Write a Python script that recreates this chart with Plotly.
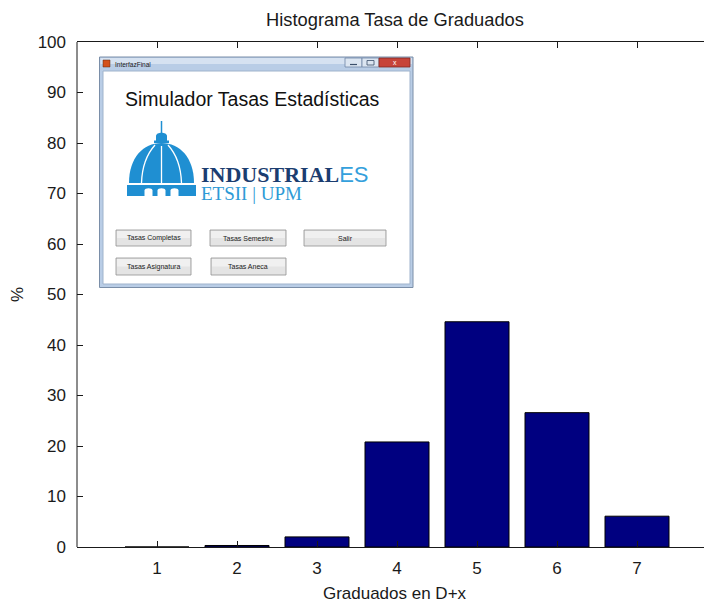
import plotly.graph_objects as go

# ---------------- data ----------------
categories = [1, 2, 3, 4, 5, 6, 7]
percent = [0.0, 0.3, 2.0, 20.8, 44.6, 26.6, 6.1]
y_ticks = [0, 10, 20, 30, 40, 50, 60, 70, 80, 90, 100]
x_ticks = [1, 2, 3, 4, 5, 6, 7]

title_text = "Histograma Tasa de Graduados"
x_title = "Graduados en D+x"
y_title = "%"

gui_title = "InterfazFinal"
gui_heading = "Simulador Tasas Estadísticas"
gui_buttons = ["Tasas Completas", "Tasas Semestre", "Salir", "Tasas Asignatura", "Tasas Aneca"]

# ---------------- geometry helpers (page pixel -> paper) ----------------
OFF = 8                      # page body margin
FW, FH = 704, 595
PL, PT, PB, PR = 77, 42, 547, 712   # plot area in page pixels
L, T = PL - OFF, PT - OFF
B = (OFF + FH) - PB
R_ = (OFF + FW) - PR
W = PR - PL
H = PB - PT


def px(x):
    return (x - PL) / W


def py(y):
    return (PB - y) / H


def path(cmds):
    out = []
    for c in cmds:
        if isinstance(c, str):
            out.append(c)
        else:
            out.append(f"{px(c[0]):.5f},{py(c[1]):.5f}")
    return " ".join(out)


FONT = "Liberation Sans, Arial, Helvetica, sans-serif"
SERIF = "Liberation Serif, Times New Roman, serif"

fig = go.Figure()
fig.add_trace(go.Bar(
    x=categories, y=percent, width=0.8,
    marker=dict(color="#000080", line=dict(color="#000000", width=1)),
    hoverinfo="x+y",
))

shapes = []
annotations = []


def rect(x0, y0, x1, y1, fill, line=None, lw=1):
    shapes.append(dict(type="rect", xref="paper", yref="paper",
                       x0=px(x0), x1=px(x1), y0=py(y1), y1=py(y0),
                       fillcolor=fill,
                       line=dict(color=line if line else fill, width=lw if line else 0)))


def seg(x0, y0, x1, y1, color, lw=1):
    shapes.append(dict(type="line", xref="paper", yref="paper",
                       x0=px(x0), x1=px(x1), y0=py(y0), y1=py(y1),
                       line=dict(color=color, width=lw)))


def pth(cmds, fill=None, line=None, lw=1):
    d = dict(type="path", xref="paper", yref="paper", path=path(cmds),
             line=dict(color=line if line else "rgba(0,0,0,0)", width=lw if line else 0))
    if fill:
        d["fillcolor"] = fill
    shapes.append(d)


def text(x, y, s, size, color="#000000", family=FONT, xanchor="center", yanchor="middle"):
    annotations.append(dict(xref="paper", yref="paper", x=px(x), y=py(y), text=s,
                            showarrow=False, xanchor=xanchor, yanchor=yanchor,
                            font=dict(size=size, color=color, family=family)))


# left spine (right spine lies just outside the picture)
seg(PL, PT, PL, PB, "#1a1a1a", 1)

# ---------------- GUI window overlay ----------------
rect(99.5, 57, 413, 287.5, "#b9cde6", "#7a8ea8", 1)
rect(100.5, 58, 412, 64, "#d6e2f1")
rect(103, 71, 410, 284, "#ffffff", "#9fb3cc", 1)
# icon
rect(103, 60, 110, 67, "#d4521c", "#5a2a10", 0.5)
text(113, 64, gui_title, 6.5, "#1a1a1a", xanchor="left")
# window controls
rect(345, 58, 362, 67, "#dbe5f1", "#6f86a6", 0.8)
rect(362, 58, 379, 67, "#dbe5f1", "#6f86a6", 0.8)
rect(379, 58, 410, 67, "#c7443a", "#7d2a24", 0.8)
seg(350, 64.5, 357, 64.5, "#3b4f6b", 1.2)
rect(367, 60.5, 374, 65, "rgba(0,0,0,0)", "#3b4f6b", 0.8)
text(394.5, 62.5, "x", 7, "#ffffff")

# heading
text(252, 98.5, gui_heading, 19.5, "#111111")

# dome logo
BLUE = "#1f8fd2"
seg(161.5, 121, 161.5, 133, BLUE, 1.5)
pth(["M", (156, 141), "L", (156, 136), "C", (156, 131.5), (167, 131.5), (167, 136),
     "L", (167, 141), "Z"], fill=BLUE)
rect(154, 140.5, 169, 143, BLUE)
pth(["M", (129, 183), "C", (129, 158), (143, 143), (161.5, 143),
     "C", (180, 143), (194, 158), (194, 183), "Z"], fill=BLUE)
# white ribs
seg(161.5, 146, 161.5, 183, "#ffffff", 1.3)
pth(["M", (155, 145), "C", (146, 155), (142, 168), (141.5, 183)], line="#ffffff", lw=1.3)
pth(["M", (168, 145), "C", (177, 155), (181, 168), (181.5, 183)], line="#ffffff", lw=1.3)
# base drum
rect(127, 185, 196, 196, BLUE)
for cx in (148.5, 161.5, 174.5):
    pth(["M", (cx - 4, 196), "L", (cx - 4, 190.5), "C", (cx - 4, 187.5), (cx + 4, 187.5),
         (cx + 4, 190.5), "L", (cx + 4, 196), "Z"], fill="#ffffff")

# logo text
text(199, 174.5,
     "<b>INDUSTRIAL</b><span style='font-family:Liberation Sans, Arial, sans-serif;"
     "color:#34a0dc'>ES</span>", 22, "#1b3d70", family=SERIF, xanchor="left")
text(199, 193, "ETSII | UPM", 19, "#2e9ad6", family=SERIF, xanchor="left")

# buttons
btn_boxes = [(116, 230, 191, 246), (210, 230, 286, 246), (304, 230, 386, 246),
             (116, 258, 191, 275), (211, 258, 286, 275)]
for (x0, y0, x1, y1), lab in zip(btn_boxes, gui_buttons):
    rect(x0, y0, x1, y1, "#e4e4e4", "#8f8f8f", 0.8)
    rect(x0 + 1, y0 + 1, x1 - 1, (y0 + y1) / 2, "#f0f0f0")
    text((x0 + x1) / 2, (y0 + y1) / 2, lab, 7, "#222222")

fig.update_layout(
    width=FW, height=FH,
    margin=dict(l=L, r=R_, t=T, b=B, pad=0),
    paper_bgcolor="#ffffff", plot_bgcolor="#ffffff",
    showlegend=False,
    font=dict(family=FONT, size=17, color="#1a1a1a"),
    title=dict(text=title_text, x=(395 - OFF) / FW, xref="container",
               xanchor="center", y=1 - (20 - OFF) / FH, yanchor="middle",
               font=dict(size=18.3, family=FONT, color="#1a1a1a")),
    xaxis=dict(range=[0, W / 80.0], tickvals=x_ticks, ticks="inside", ticklen=6,
               tickcolor="#1a1a1a", showline=True, linecolor="#1a1a1a", linewidth=1,
               mirror="ticks", showgrid=False, zeroline=False,
               tickfont=dict(size=17), ticklabelstandoff=6,
               title=dict(text=x_title, font=dict(size=17), standoff=10),
               fixedrange=True),
    yaxis=dict(range=[0, 100], tickvals=y_ticks, ticks="inside", ticklen=6,
               tickcolor="#1a1a1a", showline=False, mirror="ticks",
               showgrid=False, zeroline=False, tickfont=dict(size=17),
               ticklabelstandoff=10,
               title=dict(text=y_title, font=dict(size=17), standoff=17),
               fixedrange=True),
    shapes=shapes,
    annotations=annotations,
    bargap=0.2,
)

fig.write_html("out.html")
